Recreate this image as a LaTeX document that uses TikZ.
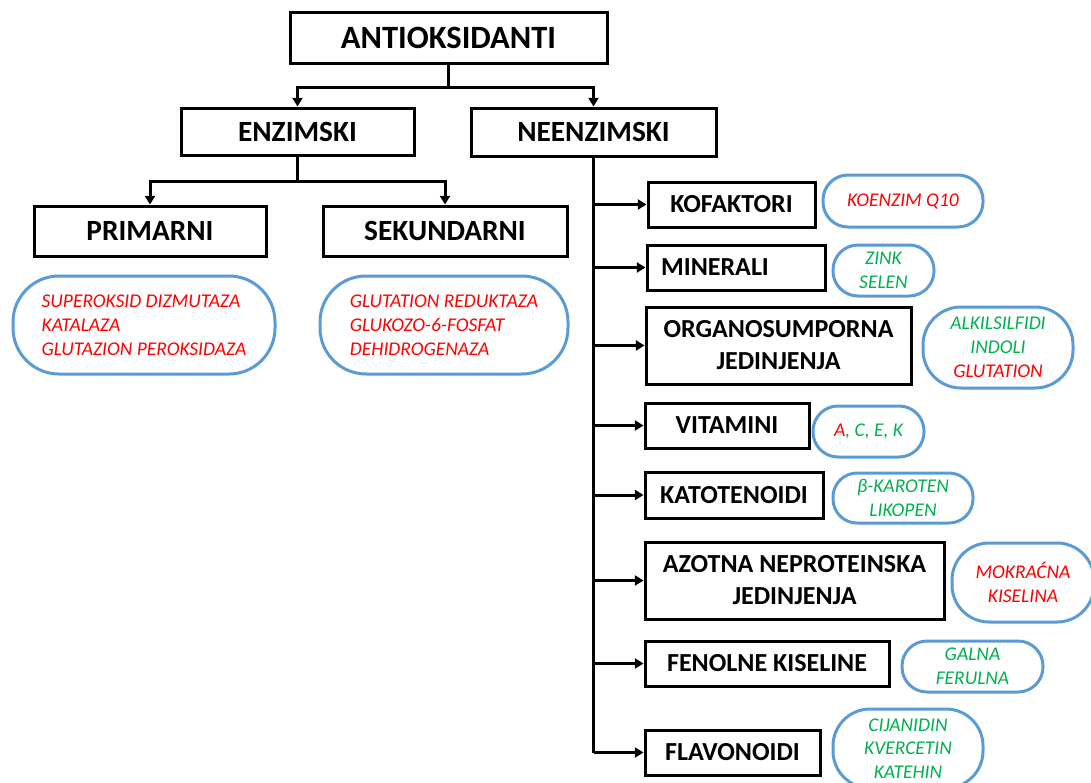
\documentclass[tikz,border=0pt]{standalone}
\usepackage{fontspec}
\setmainfont{Carlito}
\usetikzlibrary{arrows.meta}
\definecolor{pillblue}{HTML}{5B9BD5}
\definecolor{myred}{HTML}{FF0000}
\definecolor{mygreen}{HTML}{00B050}
\newcommand\upx{0.75pt}
\begin{document}
\begin{tikzpicture}[x=0.75pt,y=-0.75pt,
  box/.style={draw=black, line width=2.25pt, inner sep=0pt, align=center,
    font=\bfseries\fontsize{19.5}{24}\selectfont},
  topbox/.style={box, font=\bfseries\fontsize{24.4}{28}\selectfont},
  midbox/.style={box, font=\bfseries\fontsize{22}{26}\selectfont},
  pill/.style={draw=pillblue, line width=2.25pt, inner sep=0pt, align=center,
    font=\itshape\fontsize{14.6}{18}\selectfont},
  pillleft/.style={pill, align=left},
  conn/.style={line width=2.25pt},
  arr/.style={conn, -{Triangle[width=7.5pt,length=6.5pt]}}
]
\useasboundingbox (0,0) rectangle (1091,782);

% top levels
\node[topbox, minimum width=317*\upx, minimum height=51*\upx] (anti) at (448.5,37.5) {ANTIOKSIDANTI};
\node[midbox, minimum width=233*\upx, minimum height=47*\upx] (enz) at (297.5,131.5) {ENZIMSKI};
\node[midbox, minimum width=245*\upx, minimum height=48*\upx] (neenz) at (593.5,132) {NEENZIMSKI};
\node[midbox, minimum width=232*\upx, minimum height=50*\upx] (prim) at (150,231) {PRIMARNI};
\node[midbox, minimum width=244*\upx, minimum height=50*\upx] (sek) at (445,231) {SEKUNDARNI};

% left pills
\node[pillleft, minimum width=262*\upx, minimum height=98*\upx, rounded corners=46*\upx, text=myred] (primp) at (144,325)
  {SUPEROKSID DIZMUTAZA\\KATALAZA\\GLUTAZION PEROKSIDAZA};
\node[pillleft, minimum width=248*\upx, minimum height=98*\upx, rounded corners=46*\upx, text=myred] (sekp) at (444,325)
  {GLUTATION REDUKTAZA\\GLUKOZO-6-FOSFAT\\DEHIDROGENAZA};

% right boxes
\node[box, minimum width=167*\upx, minimum height=45*\upx] (kof) at (731.5,204.5) {KOFAKTORI};
\node[box, minimum width=178*\upx, minimum height=45*\upx] (min) at (736,267.5) {MINERALI\hspace*{31.5pt}};
\node[box, minimum width=265*\upx, minimum height=77*\upx] (org) at (778.5,345.5) {ORGANOSUMPORNA\\JEDINJENJA};
\node[box, minimum width=164*\upx, minimum height=45*\upx] (vit) at (727,425.5) {VITAMINI};
\node[box, minimum width=178*\upx, minimum height=46*\upx] (kat) at (734,495) {KATOTENOIDI};
\node[box, minimum width=299*\upx, minimum height=77*\upx] (azo) at (794.5,580.5) {AZOTNA NEPROTEINSKA\\JEDINJENJA};
\node[box, minimum width=244*\upx, minimum height=45*\upx] (fen) at (767,663.5) {FENOLNE KISELINE};
\node[box, minimum width=175*\upx, minimum height=45*\upx] (flav) at (732.5,752.5) {FLAVONOIDI};

% right pills
\node[pill, minimum width=160*\upx, minimum height=52*\upx, rounded corners=25*\upx, text=myred] (kofp) at (903,201) {KOENZIM Q10};
\node[pill, minimum width=101*\upx, minimum height=51*\upx, rounded corners=25*\upx, text=mygreen] (minp) at (883.5,270.5) {ZINK\\SELEN};
\node[pill, minimum width=150*\upx, minimum height=81*\upx, rounded corners=38*\upx] (orgp) at (998,347.5)
  {\textcolor{mygreen}{ALKILSILFIDI}\\\textcolor{mygreen}{INDOLI}\\\textcolor{myred}{GLUTATION}};
\node[pill, minimum width=111*\upx, minimum height=51*\upx, rounded corners=25*\upx] (vitp) at (868.5,431.5)
  {\textcolor{myred}{A}\textcolor{mygreen}{, C, E, K}};
\node[pill, minimum width=140*\upx, minimum height=50*\upx, rounded corners=24*\upx, text=mygreen] (katp) at (903,498) {β-KAROTEN\\LIKOPEN};
\node[pill, minimum width=142*\upx, minimum height=79*\upx, rounded corners=37*\upx, text=myred] (azop) at (1023,582.5) {MOKRAĆNA\\KISELINA};
\node[pill, minimum width=141*\upx, minimum height=51*\upx, rounded corners=25*\upx, text=mygreen] (fenp) at (972.5,666.5) {GALNA\\FERULNA};
\node[pill, minimum width=150*\upx, minimum height=79*\upx, rounded corners=37*\upx, text=mygreen,
  font=\itshape\fontsize{14.6}{17.4}\selectfont] (flavp) at (908,748.5) {CIJANIDIN\\KVERCETIN\\KATEHIN};

% connectors
\coordinate (j1) at (448.5,87);
\draw[conn] (anti.south) -- (j1);
\draw[arr] (j1) -| (enz.north);
\draw[arr] (j1) -| (neenz.north);
\coordinate (j2) at (297.5,181);
\draw[conn] (enz.south) -- (j2);
\draw[arr] (j2) -| (prim.north);
\draw[arr] (j2) -| (sek.north);

\draw[conn] (neenz.south) -- (neenz.south |- flav.west);
\foreach \n in {kof,min,org,vit,kat,azo,fen,flav}
  \draw[arr] (neenz.south |- \n.west) -- (\n.west);
\end{tikzpicture}
\end{document}
